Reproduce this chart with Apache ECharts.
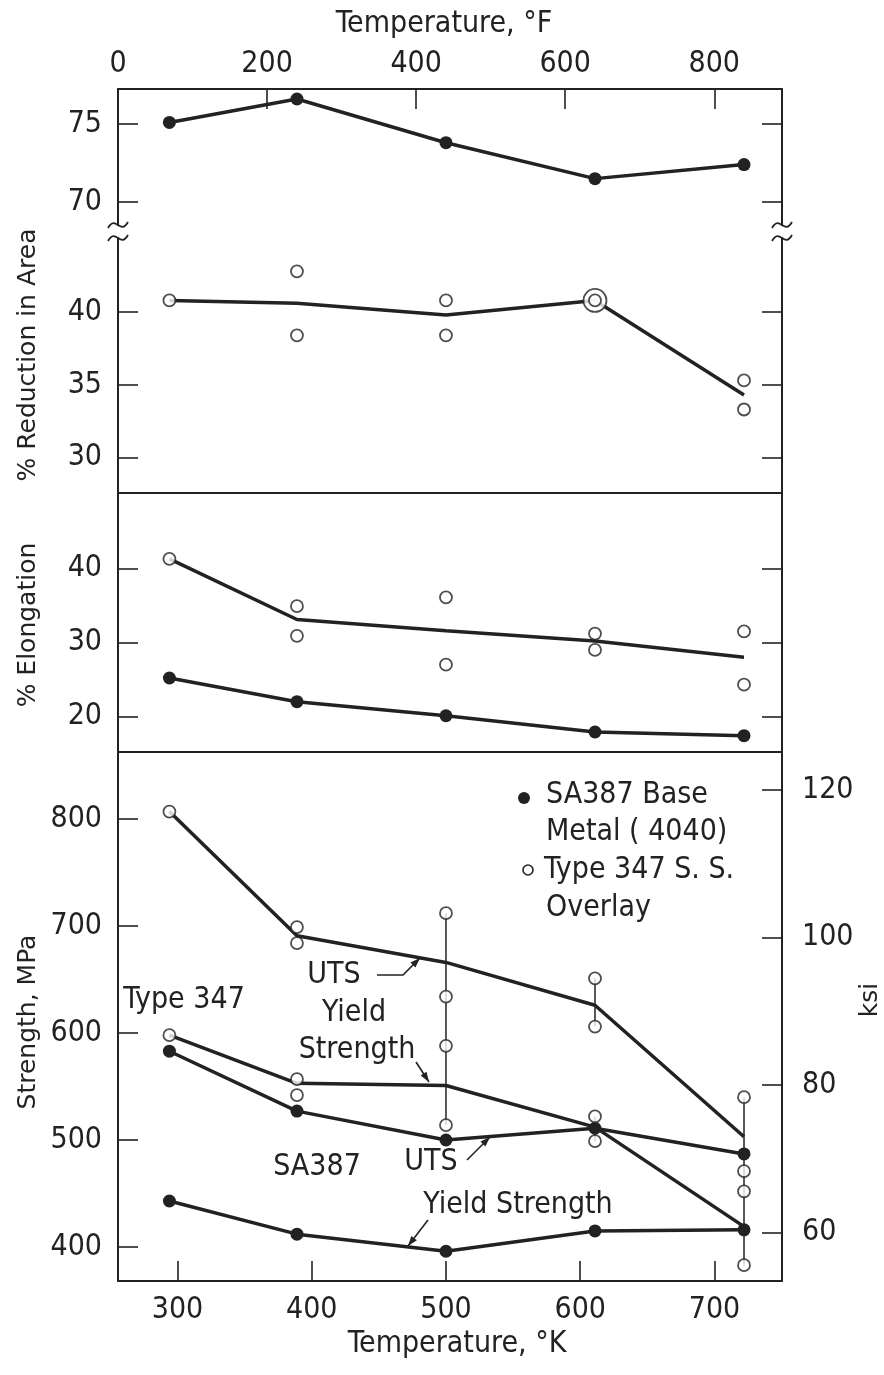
<!DOCTYPE html>
<html>
<head>
<meta charset="utf-8">
<title>Tensile properties vs temperature</title>
<style>
  html, body { margin: 0; padding: 0; background: #fff; }
  #main { width: 884px; height: 1375px; }
</style>
</head>
<body>
<div id="main"></div>
<script src="https://cdn.jsdelivr.net/npm/echarts@6.0.0/dist/echarts.min.js"></script>
<script>
// test temperatures, K (70, 240, 440, 640, 840 F)
var tempK = [294, 389, 500, 611, 722];

// % reduction in area
var raBaseVals = [75.1, 76.6, 73.8, 71.5, 72.4];
var raOverlayLine = [40.8, 40.6, 39.8, 40.8, 34.3];
var raOverlayTemps = [294, 389, 389, 500, 500, 611, 722, 722];
var raOverlayVals = [40.8, 42.8, 38.4, 40.8, 38.4, 40.8, 35.3, 33.3];
var raDoubleTemps = [611];
var raDoubleVals = [40.8];

// % elongation
var elBaseVals = [25.2, 22.0, 20.1, 17.9, 17.4];
var elOverlayLine = [41.3, 33.1, 31.6, 30.2, 28.0];
var elOverlayTemps = [294, 389, 389, 500, 500, 611, 611, 722, 722];
var elOverlayVals = [41.3, 34.9, 30.9, 36.1, 27.0, 31.2, 29.0, 31.5, 24.3];

// strength, MPa
var utsBaseVals = [583, 527, 500, 511, 487];
var ysBaseVals = [443, 412, 396, 415, 416];
var utsOverlayLine = [807, 691, 666, 626, 503];
var ysOverlayLine = [598, 553, 551, 512, 419];
var utsOverlayTemps = [294, 389, 389, 500, 500, 611, 611, 722, 722];
var utsOverlayVals = [807, 699, 684, 712, 634, 651, 606, 540, 471];
var ysOverlayTemps = [294, 389, 389, 500, 500, 611, 611, 722, 722];
var ysOverlayVals = [598, 557, 542, 588, 514, 522, 499, 452, 383];
// scatter bars joining the overlay specimens
var barTemps = [500, 611, 611, 722];
var barHigh = [712, 651, 522, 540];
var barLow = [514, 606, 499, 383];

// tick labels
var fTicks = [0, 200, 400, 600, 800];
var kTicks = [300, 400, 500, 600, 700];
var raHiTicks = [70, 75];
var raLoTicks = [30, 35, 40];
var elTicks = [20, 30, 40];
var mpaTicks = [400, 500, 600, 700, 800];
var ksiTicks = [60, 80, 100, 120];

var INK = '#222';
var NUM_FONT = '"Liberation Sans Narrow", "DejaVu Sans Condensed", "Roboto", sans-serif';
var TITLE_FONT = '"DejaVu Sans", "Liberation Sans", sans-serif';
var MPA_PER_KSI = 6.89476;

var kMin = 255.7, kMax = 750.3;
var fMax = (kMax - 255.37) * 1.8;
var mpaMin = 368.2, mpaMax = 862.7;

function pts(xs, ys) {
    return xs.map(function (x, i) { return [x, ys[i]]; });
}

function kAxis(grid, opts) {
    var ax = {
        type: 'value', gridIndex: grid, min: kMin, max: kMax, position: 'bottom',
        axisLine: { show: true, lineStyle: { color: INK, width: 2 } },
        axisTick: { show: false },
        axisLabel: { show: false },
        splitLine: { show: false }
    };
    return Object.assign(ax, opts || {});
}

function yAxisOf(grid, min, max, ticks, side, labels) {
    return {
        type: 'value', gridIndex: grid, min: min, max: max, position: side,
        axisLine: { show: true, lineStyle: { color: INK, width: 2 } },
        axisTick: { show: true, inside: true, length: 20, customValues: ticks, lineStyle: { color: INK, width: 1.6 } },
        axisLabel: {
            show: labels, customValues: ticks, margin: side == 'left' ? 16 : 20,
            color: INK, fontSize: 30, fontFamily: NUM_FONT
        },
        splitLine: { show: false }
    };
}

var lineStyle = { color: INK, width: 3.5 };
var openItem = { color: '#fff', borderColor: INK, borderWidth: 1.8 };

function meanLine(x, y, data) {
    return { type: 'line', xAxisIndex: x, yAxisIndex: y, data: data, symbol: 'none', lineStyle: lineStyle, z: 2 };
}
function baseLine(x, y, data) {
    return {
        type: 'line', xAxisIndex: x, yAxisIndex: y, data: data, symbol: 'circle', symbolSize: 13,
        itemStyle: { color: INK }, lineStyle: lineStyle, z: 3
    };
}
function openPts(x, y, data, size) {
    return { type: 'scatter', xAxisIndex: x, yAxisIndex: y, data: data, symbol: 'circle', symbolSize: size || 12, itemStyle: openItem, z: 4 };
}

var series = [
    baseLine(0, 0, pts(tempK, raBaseVals)),
    meanLine(2, 2, pts(tempK, raOverlayLine)),
    openPts(2, 2, pts(raDoubleTemps, raDoubleVals), 23),
    openPts(2, 2, pts(raOverlayTemps, raOverlayVals)),
    baseLine(3, 4, pts(tempK, elBaseVals)),
    meanLine(3, 4, pts(tempK, elOverlayLine)),
    openPts(3, 4, pts(elOverlayTemps, elOverlayVals))
];
barTemps.forEach(function (t, i) {
    series.push({
        type: 'line', xAxisIndex: 4, yAxisIndex: 6, data: [[t, barHigh[i]], [t, barLow[i]]],
        symbol: 'none', lineStyle: { color: INK, width: 1.5 }, z: 1
    });
});
series.push(
    meanLine(4, 6, pts(tempK, utsOverlayLine)),
    meanLine(4, 6, pts(tempK, ysOverlayLine)),
    baseLine(4, 6, pts(tempK, utsBaseVals)),
    baseLine(4, 6, pts(tempK, ysBaseVals)),
    openPts(4, 6, pts(utsOverlayTemps, utsOverlayVals)),
    openPts(4, 6, pts(ysOverlayTemps, ysOverlayVals))
);

// annotation helpers
function txt(x, y, s, font, align) {
    return {
        type: 'text', x: x, y: y, z: 10,
        style: { text: s, fill: INK, font: font || ('30px ' + NUM_FONT), align: align || 'center', verticalAlign: 'middle' }
    };
}
function vtxt(x, y, s) {
    var t = txt(x, y, s, '25px ' + TITLE_FONT);
    t.rotation = Math.PI / 2;
    return t;
}
function arrow(p) {
    var a = p[p.length - 2], b = p[p.length - 1];
    var ang = Math.atan2(b[1] - a[1], b[0] - a[0]);
    var L = 10, W = 3.5;
    var bx = b[0] - L * Math.cos(ang), by = b[1] - L * Math.sin(ang);
    var head = [[b[0], b[1]],
        [bx + W * Math.sin(ang), by - W * Math.cos(ang)],
        [bx - W * Math.sin(ang), by + W * Math.cos(ang)]];
    return [
        { type: 'polyline', z: 10, shape: { points: p }, style: { stroke: INK, lineWidth: 1.6, fill: null } },
        { type: 'polygon', z: 10, shape: { points: head }, style: { fill: INK } }
    ];
}
function tilde(cx, cy) {
    return {
        type: 'bezierCurve', z: 10,
        shape: { x1: cx - 10, y1: cy + 3, x2: cx + 10, y2: cy - 3, cpx1: cx - 2, cpy1: cy - 11, cpx2: cx + 2, cpy2: cy + 11 },
        style: { stroke: INK, lineWidth: 1.8, fill: null }
    };
}

var graphics = [
    vtxt(28, 355, '% Reduction in Area'),
    vtxt(28, 625, '% Elongation'),
    vtxt(28, 1022, 'Strength, MPa'),
    vtxt(870, 1000, 'ksi'),
    tilde(118, 225), tilde(118, 238), tilde(782, 225), tilde(782, 238),
    // legend
    { type: 'circle', z: 10, shape: { cx: 524, cy: 798, r: 6 }, style: { fill: INK } },
    txt(546, 795, 'SA387 Base', null, 'left'),
    txt(546, 832, 'Metal ( 4040)', null, 'left'),
    { type: 'circle', z: 10, shape: { cx: 528, cy: 870, r: 5 }, style: { fill: '#fff', stroke: INK, lineWidth: 1.6 } },
    txt(544, 870, 'Type 347 S. S.', null, 'left'),
    txt(546, 908, 'Overlay', null, 'left'),
    // curve labels
    txt(184, 1000, 'Type 347'),
    txt(334, 975, 'UTS'),
    txt(354, 1013, 'Yield'),
    txt(357, 1050, 'Strength'),
    txt(317, 1167, 'SA387'),
    txt(431, 1162, 'UTS'),
    txt(518, 1205, 'Yield Strength')
].concat(
    arrow([[377, 975], [403, 975], [420, 958]]),
    arrow([[416, 1062], [429, 1082]]),
    arrow([[467, 1160], [490, 1137]]),
    arrow([[428, 1220], [408, 1246]])
);

var chart = echarts.init(document.getElementById('main'));
var option = {
    animation: false,
    backgroundColor: '#fff',
    grid: [
        { left: 118, right: 102, top: 89, height: 136 },
        { left: 118, right: 102, top: 238, height: 255 },
        { left: 118, right: 102, top: 493, height: 259 },
        { left: 118, right: 102, top: 752, height: 529 }
    ],
    xAxis: [
        kAxis(0, { axisLine: { show: false } }),
        {
            type: 'value', gridIndex: 0, min: 0, max: fMax, position: 'top',
            name: 'Temperature, °F', nameLocation: 'middle', nameGap: 50,
            nameTextStyle: { color: INK, fontSize: 30, fontFamily: NUM_FONT, padding: [0, 12, 0, 0] },
            axisLine: { show: true, lineStyle: { color: INK, width: 2 } },
            axisTick: { show: true, inside: true, length: 20, customValues: fTicks, lineStyle: { color: INK, width: 1.6 } },
            axisLabel: { customValues: fTicks, margin: 10, color: INK, fontSize: 30, fontFamily: NUM_FONT },
            splitLine: { show: false }
        },
        kAxis(1),
        kAxis(2),
        kAxis(3, {
            name: 'Temperature, °K', nameLocation: 'middle', nameGap: 48,
            nameTextStyle: { color: INK, fontSize: 30, fontFamily: NUM_FONT, padding: [0, 0, 0, 14] },
            axisTick: { show: true, inside: true, length: 20, customValues: kTicks, lineStyle: { color: INK, width: 1.6 } },
            axisLabel: { show: true, customValues: kTicks, margin: 14, color: INK, fontSize: 30, fontFamily: NUM_FONT }
        })
    ],
    yAxis: [
        yAxisOf(0, 68.53, 77.24, raHiTicks, 'left', true),
        yAxisOf(0, 68.53, 77.24, raHiTicks, 'right', false),
        yAxisOf(1, 27.56, 45.09, raLoTicks, 'left', true),
        yAxisOf(1, 27.56, 45.09, raLoTicks, 'right', false),
        yAxisOf(2, 15.2, 50.2, elTicks, 'left', true),
        yAxisOf(2, 15.2, 50.2, elTicks, 'right', false),
        yAxisOf(3, mpaMin, mpaMax, mpaTicks, 'left', true),
        yAxisOf(3, mpaMin / MPA_PER_KSI, mpaMax / MPA_PER_KSI, ksiTicks, 'right', true)
    ],
    series: series,
    graphic: graphics
};
chart.setOption(option);
</script>
</body>
</html>
